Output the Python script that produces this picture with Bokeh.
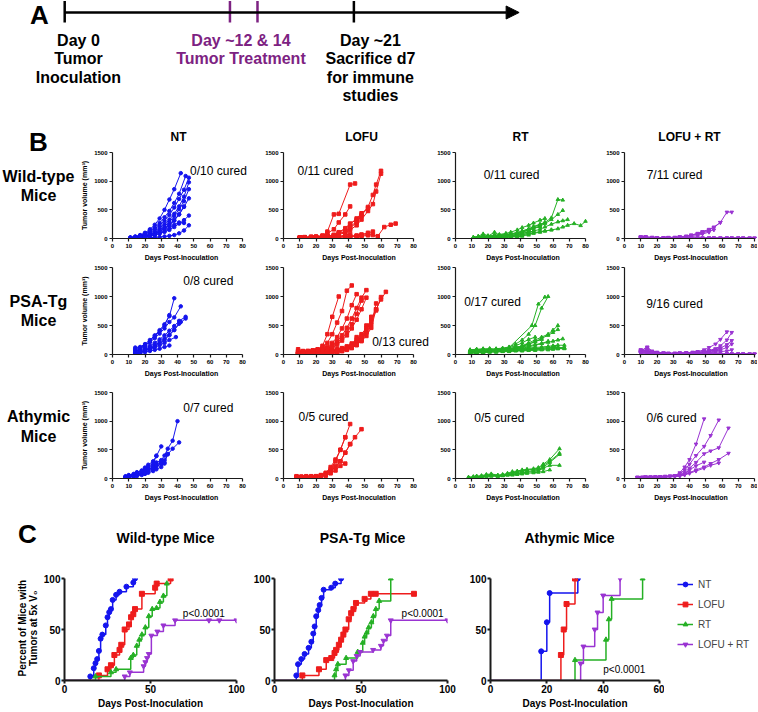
import math
from bokeh.plotting import figure
from bokeh.models import Range1d, Label, Arrow, NormalHead, Legend, LegendItem
from bokeh.layouts import row, column
from bokeh.core.properties import value
from bokeh.embed import file_html
from bokeh.resources import INLINE

FONT = "Liberation Sans"

# ---------------- data ----------------
groups = ["NT", "LOFU", "RT", "LOFU + RT"]
group_colors = ["#1414ee", "#ee1c1c", "#25b025", "#9a34d2"]
group_markers = ["circle", "square", "triangle", "inverted_triangle"]
mouse_rows = [["Wild-type", "Mice"], ["PSA-Tg", "Mice"], ["Athymic", "Mice"]]
km_titles = ["Wild-type Mice", "PSA-Tg Mice", "Athymic Mice"]

# Panel A timeline
timeline_days = [0, 12, 14, 21]
timeline_colors = ["black", "#7d2282", "#7d2282", "black"]
timeline_end = 33
timeline_text = [["Day 0", "Tumor", "Inoculation"],
                 ["Day ~12 & 14", "Tumor Treatment"],
                 ["Day ~21", "Sacrifice d7", "for immune", "studies"]]
timeline_text_day = [1.0, 12.8, 22.2]
timeline_text_color = ["black", "#7d2282", "black"]

# Panel B tumour growth curves (days, volumes mm3), one inner list per mouse
wt_nt_days = [
    [11, 14, 17, 20, 23, 26, 29, 32, 35, 38, 42],
    [11, 14, 17, 20, 23, 26, 29, 32, 35, 38, 41, 45],
    [11, 14, 17, 20, 23, 26, 29, 32, 35, 38, 41, 44, 47],
    [11, 14, 17, 20, 23, 26, 29, 32, 35, 38, 41, 44, 47],
    [11, 14, 17, 20, 23, 26, 29, 32, 35, 38, 41, 44, 47],
    [11, 14, 17, 20, 23, 26, 29, 32, 35, 38, 41, 44, 47],
    [11, 14, 17, 20, 23, 26, 29, 32, 35, 38, 41, 44],
    [11, 14, 17, 20, 23, 26, 29, 32, 35, 38, 41, 44, 47],
    [11, 14, 17, 20, 23, 26, 29, 32, 35, 38, 41, 44],
    [11, 14, 17, 20, 23, 26, 29, 32, 35, 38, 41, 44, 47]]
wt_nt_vol = [
    [20, 35, 60, 100, 160, 240, 350, 500, 680, 860, 1140],
    [15, 30, 55, 90, 130, 190, 270, 370, 480, 620, 780, 1090],
    [10, 25, 50, 80, 120, 170, 230, 310, 410, 540, 690, 850, 1060],
    [10, 20, 40, 65, 95, 135, 185, 250, 330, 430, 560, 730, 980],
    [5, 15, 30, 50, 75, 105, 150, 210, 290, 390, 510, 650, 860],
    [8, 18, 30, 45, 65, 95, 130, 180, 240, 320, 420, 550, 700],
    [5, 12, 25, 40, 60, 85, 120, 170, 230, 310, 420, 560],
    [5, 10, 20, 30, 45, 60, 85, 115, 150, 200, 260, 320, 400],
    [5, 10, 15, 25, 40, 60, 90, 130, 180, 240, 280, 270],
    [2, 5, 8, 10, 15, 20, 25, 35, 45, 60, 90, 140, 230]]

wt_lofu_days = [
    [10, 13, 17, 20, 24, 27, 31, 34, 38, 41, 45, 48, 52, 55, 57, 60],
    [10, 13, 17, 20, 24, 27, 31, 34, 38, 41, 45, 48, 52, 55, 57, 60],
    [10, 13, 17, 20, 24, 27, 31, 34, 41, 44],
    [10, 13, 17, 20, 24, 27, 31, 34, 38, 41],
    [10, 13, 17, 20, 24, 27, 31, 34, 38, 41, 45, 48, 52],
    [10, 13, 17, 20, 24, 27, 31, 34, 38, 41, 45, 48],
    [10, 13, 17, 20, 24, 27, 31, 34, 38, 41, 45],
    [10, 13, 17, 20, 24, 27, 31, 34, 38, 41, 45, 48, 52, 55, 58, 62, 66, 69],
    [10, 13, 17, 20, 24, 27, 31, 34, 38, 41, 45, 48, 52, 55],
    [10, 13, 17, 20, 24, 27, 31, 34, 38, 41, 45, 48, 52],
    [10, 13, 17, 20, 24, 27, 31, 34, 38, 41]]
wt_lofu_vol = [
    [20, 25, 30, 30, 40, 45, 60, 80, 120, 180, 280, 400, 550, 760, 940, 1180],
    [15, 20, 25, 30, 35, 40, 50, 70, 100, 150, 230, 330, 480, 600, 820, 1130],
    [20, 20, 25, 30, 50, 120, 420, 430, 940, 960],
    [15, 20, 25, 30, 50, 90, 160, 280, 420, 560],
    [10, 15, 20, 25, 30, 40, 60, 100, 160, 250, 350, 440, 530],
    [10, 15, 15, 20, 25, 35, 60, 110, 180, 260, 330, 400],
    [10, 10, 15, 20, 25, 30, 50, 80, 130, 200, 300],
    [10, 15, 10, 15, 20, 20, 25, 30, 35, 40, 50, 60, 70, 60, 40, 200, 240, 260],
    [5, 10, 10, 15, 15, 20, 20, 25, 30, 40, 50, 70, 100, 120],
    [5, 5, 10, 10, 15, 15, 20, 20, 25, 30, 35, 40, 55],
    [5, 5, 5, 10, 10, 15, 20, 40, 60, 80]]

wt_rt_days = [
    [11, 14, 17, 20, 24, 27, 31, 34, 38, 41, 45, 48, 52, 55, 59, 63, 66],
    [11, 14, 17, 20, 24, 27, 31, 34, 38, 41, 45, 48, 52, 55, 59, 63, 66],
    [11, 14, 17, 20, 24, 27, 31, 34, 38, 41, 45, 48, 52, 55, 59, 63, 66, 69],
    [11, 14, 17, 20, 24, 27, 31, 34, 38, 41, 45, 48, 52, 55, 59, 63, 66, 69, 73, 77, 80],
    [11, 14, 17, 20, 24, 27, 31, 34, 38, 41, 45, 48, 52, 55],
    [11, 14, 17, 20, 24, 27, 31, 34, 38, 41, 45, 48, 52, 55],
    [11, 14, 17, 20, 24, 27, 31, 34, 38, 41, 45, 48, 52],
    [11, 14, 17, 20, 24, 27, 31, 34, 38, 41, 45, 48, 52, 55, 59],
    [11, 14, 17, 20, 24, 27, 31, 34, 38, 41, 45, 48],
    [11, 14, 17, 20, 24, 27, 31, 34, 38, 41, 45],
    [11, 14, 17, 20, 24, 27, 31, 34, 38, 41]]
wt_rt_vol = [
    [20, 30, 50, 40, 50, 60, 70, 80, 100, 130, 160, 200, 240, 280, 360, 680, 670],
    [10, 20, 30, 40, 40, 50, 60, 70, 90, 110, 140, 180, 220, 260, 330, 420, 490],
    [10, 20, 30, 30, 40, 40, 50, 60, 70, 90, 110, 130, 160, 200, 250, 290, 310, 330],
    [10, 15, 20, 25, 30, 35, 40, 50, 60, 70, 80, 90, 110, 130, 150, 170, 200, 230, 260, 225, 300],
    [20, 40, 80, 50, 60, 70, 90, 110, 150, 190, 230, 270, 320, 350],
    [10, 20, 40, 30, 40, 50, 60, 80, 100, 130, 170, 210, 250, 280],
    [20, 30, 50, 40, 110, 60, 70, 80, 100, 120, 150, 180, 200],
    [5, 10, 20, 20, 30, 30, 40, 50, 60, 70, 90, 100, 120, 130, 150],
    [5, 10, 15, 20, 20, 30, 40, 50, 70, 90, 110, 130],
    [5, 5, 10, 10, 15, 20, 25, 30, 40, 50, 60],
    [5, 5, 10, 10, 10, 15, 20, 25, 30, 40]]

wt_lrt_days = [
    [10, 13, 17, 20, 24, 27, 31, 34, 38, 41, 45, 48, 52, 55, 59, 63, 66],
    [10, 13, 17, 20, 24, 27, 31, 34, 38, 41, 45, 48, 52, 55, 59],
    [10, 13, 17, 20, 24, 27, 31, 34, 38, 41, 45, 48, 52, 55],
    [10, 13, 17, 20, 24, 27, 31, 34, 38, 41, 45, 48, 52],
    [10, 13, 17, 20, 24, 27, 31, 34, 38, 41, 45, 48, 52, 55, 59, 63, 66, 70, 73, 77, 80],
    [10, 13, 17, 20, 24, 27, 31, 34, 38, 41, 45, 48, 52, 55, 59, 63, 66, 70, 73, 77, 80],
    [10, 13, 17, 20, 24, 27, 31, 34, 38, 41, 45, 48, 52, 55, 59, 63, 66, 70, 73],
    [10, 13, 17, 20, 24, 27, 31, 34, 38, 41, 45, 48, 52, 55, 59, 63, 66, 70, 73, 77, 80],
    [10, 13, 17, 20, 24, 27, 31, 34, 38, 41, 45, 48, 52, 55, 59, 63, 66, 70],
    [10, 13, 17, 20, 24, 27, 31, 34, 38, 41, 45, 48, 52, 55, 59, 63, 66, 70, 73, 77, 80],
    [10, 13, 17, 20, 24, 27, 31, 34, 38, 41, 45, 48, 52, 55, 59, 63, 66, 70, 73, 77]]
wt_lrt_vol = [
    [20, 30, 20, 10, 10, 20, 20, 30, 40, 60, 80, 110, 150, 190, 280, 460, 460],
    [10, 20, 10, 10, 10, 10, 20, 30, 40, 60, 90, 120, 160, 200, 280],
    [10, 10, 10, 5, 10, 10, 15, 20, 30, 50, 70, 100, 130, 150],
    [5, 10, 5, 5, 5, 10, 10, 15, 20, 30, 50, 80, 110],
    [30, 20, 10, 5, 5, 5, 5, 5, 5, 5, 5, 5, 5, 5, 5, 5, 5, 5, 5, 5, 5],
    [20, 30, 10, 10, 5, 5, 5, 5, 5, 5, 5, 5, 5, 5, 5, 5, 5, 5, 5, 5, 5],
    [10, 20, 10, 5, 5, 5, 5, 5, 5, 5, 5, 5, 5, 5, 5, 5, 5, 5, 5],
    [20, 10, 5, 5, 5, 5, 5, 5, 5, 5, 5, 5, 5, 5, 5, 5, 5, 5, 5, 5, 5],
    [10, 10, 5, 5, 5, 5, 5, 5, 5, 5, 5, 5, 5, 5, 5, 5, 5, 5],
    [30, 20, 20, 10, 5, 5, 5, 5, 5, 5, 5, 5, 5, 5, 5, 5, 5, 5, 5, 5, 5],
    [10, 10, 5, 5, 5, 5, 5, 5, 5, 5, 5, 5, 5, 5, 5, 5, 5, 5, 5, 5]]

psa_nt_days = [
    [14, 17, 20, 23, 26, 29, 32, 35, 38],
    [14, 17, 20, 23, 26, 29, 32, 35, 38, 42],
    [14, 17, 20, 23, 26, 29, 32, 35],
    [14, 17, 20, 23, 26, 29, 32, 35, 38, 41, 45],
    [14, 17, 20, 23, 26, 29, 32, 35, 38, 41, 45],
    [14, 17, 20, 23, 26, 29, 32, 35, 38, 42],
    [14, 17, 20, 23, 26, 29, 32, 35, 39],
    [14, 17, 20, 23, 26, 29, 32, 35]]
psa_nt_vol = [
    [120, 130, 180, 250, 330, 420, 520, 660, 970],
    [100, 120, 160, 210, 280, 360, 450, 560, 640, 830],
    [80, 100, 150, 220, 310, 400, 500, 680],
    [60, 80, 110, 150, 200, 260, 330, 410, 490, 580, 650],
    [40, 60, 90, 120, 160, 210, 270, 340, 420, 530, 620],
    [30, 50, 70, 100, 140, 190, 250, 330, 430, 560],
    [20, 40, 60, 90, 120, 160, 200, 250, 300],
    [10, 20, 40, 60, 80, 100, 130, 155]]

psa_lofu_days = [
    [9, 12, 15, 18, 21, 24, 27, 30, 34],
    [9, 12, 15, 18, 21, 24, 27, 30, 33, 36, 39, 42],
    [9, 12, 15, 18, 21, 24, 27, 30, 33, 36, 39, 42, 45],
    [9, 12, 15, 18, 21, 24, 27, 30, 33, 36, 39, 42, 45, 48, 51],
    [9, 12, 15, 18, 21, 24, 27, 30, 33, 36, 39, 42, 45, 48],
    [9, 12, 15, 18, 21, 24, 27, 30, 33, 36, 39, 42, 45, 48, 51],
    [9, 12, 15, 18, 21, 24, 27, 30, 33, 36, 39, 42, 45, 48, 51, 54, 57, 60, 63],
    [9, 12, 15, 18, 21, 24, 27, 30, 33, 36, 39, 42, 45, 48, 51, 54, 57, 60],
    [9, 12, 15, 18, 21, 24, 27, 30, 33, 36, 39, 42, 45, 48, 51, 54, 57],
    [9, 12, 15, 18, 21, 24, 27, 30, 33, 36, 39, 42, 45, 48, 51, 54, 57],
    [9, 12, 15, 18, 21, 24, 27, 30, 33, 36, 39, 42, 45, 48, 51, 54],
    [9, 12, 15, 18, 21, 24, 27, 30, 33, 36, 39, 42, 45, 48, 51],
    [9, 12, 15, 18, 21, 24, 27, 30, 33, 36, 39, 42, 45]]
psa_lofu_vol = [
    [90, 60, 50, 60, 80, 150, 350, 650, 1000],
    [60, 50, 60, 70, 90, 120, 200, 350, 550, 750, 1100, 1190],
    [50, 40, 50, 60, 70, 90, 130, 200, 300, 450, 620, 850, 1040],
    [40, 50, 60, 70, 80, 90, 110, 160, 230, 330, 460, 620, 800, 980, 1110],
    [30, 40, 50, 50, 60, 80, 100, 140, 200, 280, 380, 520, 700, 930],
    [20, 30, 40, 50, 60, 70, 90, 120, 170, 240, 330, 450, 600, 780, 980],
    [20, 30, 30, 40, 40, 50, 60, 70, 90, 110, 140, 190, 260, 350, 460, 600, 780, 950, 1080],
    [10, 20, 30, 30, 40, 40, 50, 60, 80, 100, 130, 170, 230, 310, 420, 560, 760, 990],
    [10, 20, 20, 30, 30, 40, 50, 60, 70, 90, 110, 150, 200, 280, 380, 520, 880],
    [10, 10, 20, 20, 30, 30, 40, 50, 60, 80, 100, 130, 170, 230, 320, 460, 780],
    [5, 10, 10, 20, 20, 30, 30, 40, 50, 70, 90, 120, 170, 250, 380, 650],
    [5, 10, 10, 10, 20, 20, 30, 30, 40, 60, 80, 110, 160, 250, 500],
    [5, 5, 10, 10, 10, 20, 20, 30, 40, 60, 90, 150, 300]]

psa_rt_days = [
    [9, 13, 17, 21, 25, 29, 33, 47, 51, 55],
    [9, 13, 17, 21, 25, 29, 33, 37, 41, 45, 49, 53, 57],
    [9, 13, 17, 21, 25, 29, 33, 37, 41, 45, 49, 53, 57, 60, 63],
    [9, 13, 17, 21, 25, 29, 33, 37, 41, 45, 49, 53, 57, 60, 63],
    [9, 13, 17, 21, 25, 29, 33, 37, 41, 45, 49, 53, 57, 60, 63, 66],
    [9, 13, 17, 21, 25, 29, 33, 37, 41, 45, 49, 53, 57, 60, 63, 67],
    [9, 13, 17, 21, 25, 29, 33, 37, 41, 45, 49, 53, 57, 60, 63, 67],
    [9, 13, 17, 21, 25, 29, 33, 37, 41, 45, 49, 53, 57, 60, 63, 67],
    [9, 13, 17, 21, 25, 29, 33, 37, 41, 45, 49],
    [9, 13, 17, 21, 25, 29, 33, 37, 41, 45, 49, 53],
    [9, 13, 17, 21, 25, 29, 33, 37, 41, 45, 49, 53, 57],
    [9, 13, 17, 21, 25, 29, 33, 37, 41, 45],
    [9, 13, 17, 21, 25, 29, 33, 37, 41],
    [9, 13, 17, 21, 25, 29, 33, 37, 41, 45, 49],
    [9, 13, 17, 21, 25, 29, 33, 37, 41, 45, 49, 53],
    [9, 13, 17, 21, 25, 29, 33, 37, 41, 45, 49, 53, 57, 61],
    [9, 13, 17, 21, 25, 29, 33, 37, 41, 45, 49, 53, 57, 60, 63, 67]]
psa_rt_vol = [
    [80, 90, 80, 100, 90, 100, 120, 500, 870, 990],
    [60, 70, 90, 80, 100, 110, 130, 180, 250, 350, 500, 800, 1000],
    [70, 80, 90, 100, 80, 90, 100, 120, 150, 200, 250, 300, 350, 420, 500],
    [50, 60, 70, 80, 90, 80, 90, 110, 140, 180, 220, 280, 330, 380, 430],
    [80, 90, 100, 90, 80, 90, 100, 110, 130, 150, 170, 190, 210, 230, 250, 270],
    [60, 70, 80, 70, 80, 90, 90, 100, 100, 110, 120, 130, 140, 150, 160, 160],
    [50, 60, 70, 60, 70, 80, 80, 90, 90, 100, 100, 110, 110, 120, 120, 120],
    [40, 50, 60, 50, 60, 60, 70, 70, 80, 80, 90, 90, 100, 100, 100, 100],
    [50, 60, 70, 80, 90, 100, 120, 150, 200, 260, 300],
    [40, 50, 60, 70, 80, 90, 100, 120, 150, 180, 220, 260],
    [30, 40, 50, 60, 60, 70, 80, 90, 110, 130, 160, 190, 230],
    [60, 70, 80, 90, 80, 90, 100, 120, 140, 180],
    [40, 50, 60, 70, 70, 80, 90, 100, 120],
    [30, 40, 50, 50, 60, 60, 70, 80, 90, 100, 120],
    [20, 30, 40, 50, 50, 60, 60, 70, 70, 80, 90, 100],
    [30, 40, 40, 50, 50, 60, 60, 70, 80, 90, 100, 110, 120, 130],
    [20, 30, 30, 40, 40, 50, 50, 60, 60, 70, 70, 80, 80, 90, 100, 110]]

psa_lrt_days = [
    [10, 14, 17, 20, 24, 27, 31, 34, 38, 42, 45, 49, 52, 56, 59, 63],
    [10, 14, 17, 20, 24, 27, 31, 34, 38, 42, 45, 49, 52, 56, 59, 63, 66],
    [10, 14, 17, 20, 24, 27, 31, 34, 38, 42, 45, 49, 52, 56, 59, 63, 66],
    [10, 14, 17, 20, 24, 27, 31, 34, 38, 42, 45, 49, 52, 56, 59, 63, 66],
    [10, 14, 17, 20, 24, 27, 31, 34, 38, 42, 45, 49, 52, 56, 59, 63, 66],
    [10, 14, 17, 20, 24, 27, 31, 34, 38, 42, 45, 49, 52, 56, 59],
    [10, 14, 17, 20, 24, 27, 31, 34, 38, 42, 45, 49, 52, 56],
    [10, 14, 17, 20, 24, 27, 31, 34, 38, 42, 45, 49, 52, 56, 59, 63, 66, 70, 73, 77, 80],
    [10, 14, 17, 20, 24, 27, 31, 34, 38, 42, 45, 49, 52, 56, 59, 63, 66, 70, 73, 77, 80],
    [10, 14, 17, 20, 24, 27, 31, 34, 38, 42, 45, 49, 52, 56, 59, 63, 66, 70, 73, 77, 80],
    [10, 14, 17, 20, 24, 27, 31, 34, 38, 42, 45, 49, 52, 56, 59, 63, 66, 70, 73, 77],
    [10, 14, 17, 20, 24, 27, 31, 34, 38, 42, 45, 49, 52, 56, 59, 63, 66, 70, 73, 77, 80],
    [10, 14, 17, 20, 24, 27, 31, 34, 38, 42, 45, 49, 52, 56, 59, 63, 66, 70, 73],
    [10, 14, 17, 20, 24, 27, 31, 34, 38, 42, 45, 49, 52, 56, 59, 63, 66, 70, 73, 77, 80],
    [10, 14, 17, 20, 24, 27, 31, 34, 38, 42, 45, 49, 52, 56, 59, 63, 66, 70],
    [10, 14, 17, 20, 24, 27, 31, 34, 38, 42, 45, 49, 52, 56, 59, 63, 66, 70, 73, 77, 80]]
psa_lrt_vol = [
    [80, 60, 40, 30, 20, 20, 20, 30, 30, 40, 50, 80, 120, 180, 260, 390],
    [60, 130, 60, 40, 30, 20, 20, 20, 30, 30, 40, 50, 70, 100, 150, 250, 380],
    [40, 100, 50, 30, 20, 20, 20, 20, 20, 30, 30, 40, 60, 80, 110, 170, 240],
    [30, 60, 40, 30, 20, 20, 20, 20, 20, 20, 30, 30, 40, 60, 80, 120, 180],
    [20, 40, 30, 20, 20, 10, 10, 10, 20, 20, 20, 30, 30, 40, 50, 60, 80],
    [50, 30, 20, 20, 10, 10, 10, 20, 20, 20, 30, 40, 60, 80, 100],
    [30, 20, 20, 10, 10, 10, 10, 20, 20, 30, 40, 50, 60, 70],
    [80, 50, 30, 20, 10, 5, 5, 5, 5, 5, 5, 5, 5, 5, 5, 5, 5, 5, 5, 5, 5],
    [60, 120, 40, 20, 10, 10, 5, 5, 5, 5, 5, 5, 5, 5, 5, 5, 5, 5, 5, 5, 5],
    [40, 80, 30, 20, 10, 5, 5, 5, 5, 5, 5, 5, 5, 5, 5, 5, 5, 5, 5, 5, 5],
    [30, 60, 20, 10, 10, 5, 5, 5, 5, 5, 5, 5, 5, 5, 5, 5, 5, 5, 5, 5],
    [20, 40, 20, 10, 5, 5, 5, 5, 5, 5, 5, 5, 5, 5, 5, 5, 5, 5, 5, 5, 5],
    [50, 30, 20, 10, 5, 5, 5, 5, 5, 5, 5, 5, 5, 5, 5, 5, 5, 5, 5],
    [70, 50, 30, 20, 10, 10, 5, 5, 5, 5, 5, 5, 5, 5, 5, 5, 5, 5, 5, 5, 5],
    [40, 20, 10, 10, 5, 5, 5, 5, 5, 5, 5, 5, 5, 5, 5, 5, 5, 5],
    [30, 20, 20, 10, 10, 5, 5, 5, 5, 5, 5, 5, 5, 5, 5, 5, 5, 5, 5, 5, 5]]

ath_nt_days = [
    [8, 10, 13, 15, 18, 20, 22, 25, 27, 30, 32, 34, 37, 40],
    [8, 10, 13, 15, 18, 20, 22, 25, 27, 30, 32, 34, 37, 41],
    [8, 10, 13, 15, 18, 20, 22, 25, 27, 30],
    [8, 10, 13, 15, 18, 20, 22, 25, 27],
    [8, 10, 13, 15, 18, 20, 22, 25, 27, 30],
    [8, 10, 13, 15, 18, 20, 22, 25, 27, 30, 32],
    [8, 10, 13, 15, 18, 20, 22, 25, 27, 30, 32, 34]]
ath_nt_vol = [
    [30, 40, 60, 80, 110, 140, 180, 230, 280, 320, 400, 520, 660, 1000],
    [20, 30, 50, 70, 90, 120, 150, 190, 230, 280, 320, 420, 520, 630],
    [40, 60, 80, 110, 140, 190, 240, 300, 390, 560],
    [30, 50, 70, 100, 130, 170, 210, 260, 400],
    [20, 30, 50, 70, 100, 130, 160, 200, 240, 280],
    [10, 20, 40, 60, 80, 100, 130, 170, 210, 250, 280],
    [10, 20, 30, 40, 60, 80, 100, 130, 160, 200, 260, 430]]

ath_lofu_days = [
    [8, 11, 14, 17, 20, 23, 26, 29, 32, 35, 38, 41],
    [8, 11, 14, 17, 20, 23, 26, 29, 32, 35, 38, 41, 44, 48],
    [8, 11, 14, 17, 20, 23, 26, 29, 32, 35, 38],
    [8, 11, 14, 17, 20, 23, 26, 29, 32, 35, 38, 41],
    [8, 11, 14, 17, 20, 23, 26, 29, 32, 35, 38]]
ath_lofu_vol = [
    [40, 30, 40, 30, 40, 60, 100, 200, 330, 500, 720, 950],
    [30, 30, 30, 40, 40, 50, 80, 130, 200, 300, 450, 600, 720, 860],
    [20, 30, 20, 30, 30, 50, 90, 160, 300, 500, 720],
    [30, 20, 30, 20, 30, 40, 60, 120, 220, 300, 450, 600],
    [20, 20, 20, 20, 30, 40, 50, 90, 140, 220, 260]]

ath_rt_days = [
    [8, 11, 13, 16, 19, 22, 26, 29, 32, 35, 38, 41, 44, 48, 51, 54, 58, 64],
    [8, 11, 13, 16, 19, 22, 26, 29, 32, 35, 38, 41, 44, 48, 51, 54, 58, 64],
    [8, 11, 13, 16, 19, 22, 26, 29, 32, 35, 38, 41, 44, 48, 51, 54, 58, 64],
    [8, 11, 13, 16, 19, 22, 26, 29, 32, 35, 38, 41, 44, 48, 51, 54, 58, 64],
    [8, 11, 13, 16, 19, 22, 26, 29, 32, 35, 38, 41, 44, 48, 51, 54, 58]]
ath_rt_vol = [
    [20, 30, 40, 40, 60, 70, 50, 60, 90, 120, 130, 150, 160, 170, 190, 250, 330, 520],
    [20, 30, 40, 50, 70, 80, 60, 70, 80, 100, 110, 130, 150, 160, 180, 230, 300, 440],
    [10, 20, 30, 40, 50, 60, 50, 60, 70, 80, 90, 110, 120, 140, 160, 200, 280, 420],
    [10, 20, 30, 30, 40, 50, 40, 50, 60, 70, 80, 100, 110, 120, 140, 180, 230, 230],
    [10, 10, 20, 30, 40, 40, 40, 50, 60, 60, 70, 80, 90, 100, 110, 120, 150]]

ath_lrt_days = [
    [8, 11, 13, 16, 19, 22, 25, 28, 31, 34, 37, 40, 44, 49],
    [8, 11, 13, 16, 19, 22, 25, 28, 31, 34, 37, 40, 44, 49, 53, 58],
    [8, 11, 13, 16, 19, 22, 25, 28, 31, 34, 37, 40, 44, 49, 53, 58, 64],
    [8, 11, 13, 16, 19, 22, 25, 28, 31, 34, 37, 40, 44, 49, 53, 58, 64],
    [8, 11, 13, 16, 19, 22, 25, 28, 31, 34, 37, 40, 44, 49],
    [8, 11, 13, 16, 19, 22, 25, 28, 31, 34, 37, 40, 44, 49, 53, 58]]
ath_lrt_vol = [
    [20, 20, 20, 20, 20, 30, 30, 40, 50, 100, 200, 330, 600, 1040],
    [20, 20, 20, 20, 30, 30, 30, 40, 50, 80, 150, 250, 400, 560, 750, 1020],
    [20, 20, 30, 30, 30, 30, 40, 40, 50, 60, 100, 180, 280, 430, 480, 535, 880],
    [20, 20, 20, 20, 20, 30, 30, 40, 40, 50, 70, 100, 150, 200, 260, 330, 440],
    [10, 20, 20, 20, 20, 20, 30, 30, 40, 50, 80, 150, 220, 285],
    [10, 10, 20, 20, 20, 20, 20, 30, 30, 40, 60, 90, 130, 180, 230, 270]]

cured_text = [["0/10 cured", "0/11 cured", "0/11 cured", "7/11 cured"],
              ["0/8 cured", "0/13 cured", "0/17 cured", "9/16 cured"],
              ["0/7 cured", "0/5 cured", "0/5 cured", "0/6 cured"]]
cured_x = [[65.2, 25.8, 34.5, 30.8], [59, 72, 22.8, 30.8], [59, 24.6, 27, 29]]
cured_y = [[1169, 1169, 1116, 1116], [1259, 207, 897, 879], [1221, 1081, 1047, 1047]]

b_x_ticks = [0, 10, 20, 30, 40, 50, 60, 70, 80]
b_y_ticks = [0, 500, 1000, 1500]
b_x_max = 80

# Panel C: Kaplan-Meier (days, percent with tumours at 5x V0; censored days)
km_wt_nt_days = [15, 17, 18, 19, 20, 21, 22, 24, 25, 26, 27, 28, 30, 32, 36, 40, 41]
km_wt_nt_pct = [4, 12, 17, 21, 29, 41, 45, 54, 62, 67, 70, 79, 84, 87, 92, 96, 100]
km_wt_lofu_days = [20, 25, 27, 29, 32, 33, 35, 37.5, 38.7, 40, 41, 45, 52.7, 53.6, 61.7]
km_wt_lofu_pct = [5, 11, 15, 25, 30, 35, 50, 55, 62, 65, 70, 85, 91, 95, 100]
km_wt_rt_days = [18, 27, 30, 38.5, 40, 42, 43.5, 45, 47, 49, 51, 53.5, 55.5, 57.5, 59.5]
km_wt_rt_pct = [4, 8, 11, 22, 25, 34, 40, 45, 52, 63, 70, 71, 77, 83, 95]
km_wt_lrt_days = [35, 38, 46, 47, 48, 49, 50.5, 54, 57.5, 64.3]
km_wt_lrt_pct = [4, 8, 14, 18, 22, 26, 44, 48, 54, 59]
km_wt_lrt_cens = [84, 90, 100]

km_psa_nt_days = [12.6, 13.6, 15.5, 17.4, 19.7, 21.3, 22.4, 23.2, 24.1, 25.3, 26.1, 27.2, 28.4, 32.8, 35.1, 38.5]
km_psa_nt_pct = [5, 16, 21, 26, 32, 38, 46, 53, 63, 69, 74, 81, 89, 91, 95, 100]
km_psa_lofu_days = [16.1, 25.7, 29.9, 32.8, 34.7, 35.6, 37.2, 38.5, 39.8, 41, 42.9, 44.3, 45.6, 47.1, 52.1, 55.7]
km_psa_lofu_pct = [5, 11, 20, 22, 27, 30, 35, 40, 45, 50, 60, 66, 70, 76, 80, 85]
km_psa_lofu_cens = [58.5, 80.6]
km_psa_rt_days = [34.7, 35.6, 36.6, 41.4, 48.1, 51, 52.1, 53.3, 54.4, 56, 57.1, 58.6, 60.5, 67.2]
km_psa_rt_pct = [5, 11, 16, 22, 28, 37, 43, 47, 52, 57, 63, 70, 78, 100]
km_psa_lrt_days = [41, 43, 45.5, 47.5, 49.5, 57, 61.5, 63, 65, 67.2]
km_psa_lrt_pct = [5, 10, 19, 24, 28, 30, 34, 39, 44, 59]
km_psa_lrt_cens = [100]

km_ath_nt_days = [18, 20, 21, 31]
km_ath_nt_pct = [28.6, 57.1, 85.7, 100]
km_ath_lofu_days = [25, 26, 27, 30]
km_ath_lofu_pct = [25, 50, 75, 100]
km_ath_rt_days = [30, 41, 42, 43, 54]
km_ath_rt_pct = [20, 40, 60, 80, 100]
km_ath_lrt_days = [32, 33, 37, 38, 40, 46]
km_ath_lrt_pct = [16.7, 33.3, 50, 66.7, 83.3, 100]

km_xmax = [100, 100, 60]
km_x_ticks = [[0, 50, 100], [0, 50, 100], [0, 20, 40, 60]]
km_y_ticks = [0, 50, 100]
p_text = "p<0.0001"
p_x = [81, 85.6, 47.5]
p_y = [65.5, 65.5, 10.3]

# legend swatch renderers sit outside the visible legend frame
legend_dummy = [-5]

# ---------------- helpers ----------------
def text_fig(w, h, flip=True):
    yr = Range1d(h, 0) if flip else Range1d(0, h)
    p = figure(width=w, height=h, x_range=Range1d(0, w), y_range=yr,
               x_axis_location=None, y_axis_location=None,
               toolbar_location=None, output_backend="svg", min_border=0,
               outline_line_color=None)
    p.grid.visible = False
    return p


def add_text(p, xs, ys, texts, size, bold=True, color="black", angle=0.0):
    p.text(x=xs, y=ys, text=texts, text_font=value(FONT), text_font_size=value(size),
           text_font_style="bold" if bold else "normal", text_color=color,
           text_align="center", text_baseline="middle", angle=angle)


def style_axes(p, lw, tick_out, lab_size, axlab_size, lab_standoff, axlab_standoff):
    p.axis.axis_line_width = lw
    p.axis.axis_line_color = "#1a1a1a"
    p.axis.major_tick_line_width = lw
    p.axis.major_tick_line_color = "#1a1a1a"
    p.axis.major_tick_out = tick_out
    p.axis.major_tick_in = 0
    p.axis.minor_tick_line_color = None
    p.axis.major_label_text_font = FONT
    p.axis.major_label_text_font_size = lab_size
    p.axis.major_label_text_font_style = "bold"
    p.axis.major_label_text_color = "black"
    p.axis.major_label_standoff = lab_standoff
    p.axis.axis_label_text_font = FONT
    p.axis.axis_label_text_font_size = axlab_size
    p.axis.axis_label_text_font_style = "bold"
    p.axis.axis_label_text_color = "black"
    p.axis.axis_label_standoff = axlab_standoff


# ---------------- Panel A ----------------
A_W, A_H = 757, 124
pa = figure(width=A_W, height=A_H, x_range=Range1d(-4.662, 50.31), y_range=Range1d(A_H, 0),
            x_axis_location=None, y_axis_location=None, toolbar_location=None,
            output_backend="svg", min_border=0, outline_line_color=None)
pa.grid.visible = False
pa.add_layout(Arrow(end=NormalHead(size=13, fill_color="black", line_color="black"),
                    x_start=timeline_days[0], y_start=12, x_end=timeline_end, y_end=12,
                    line_width=2.5, line_color="black"))
pa.segment(x0=timeline_days, y0=[0.5] * 4, x1=timeline_days, y1=[22] * 4,
           line_color=timeline_colors, line_width=2.5)
for grp, xd, col in zip(timeline_text, timeline_text_day, timeline_text_color):
    add_text(pa, [xd] * len(grp), [40 + 18.3 * i for i in range(len(grp))], grp, "16px", color=col)
add_text(pa, [-1.83], [14], ["A"], "26px")

# ---------------- Panel B ----------------
b_days = [[wt_nt_days, wt_lofu_days, wt_rt_days, wt_lrt_days],
          [psa_nt_days, psa_lofu_days, psa_rt_days, psa_lrt_days],
          [ath_nt_days, ath_lofu_days, ath_rt_days, ath_lrt_days]]
b_vols = [[wt_nt_vol, wt_lofu_vol, wt_rt_vol, wt_lrt_vol],
          [psa_nt_vol, psa_lofu_vol, psa_rt_vol, psa_lrt_vol],
          [ath_nt_vol, ath_lofu_vol, ath_rt_vol, ath_lrt_vol]]

B_FRAME = 130
B_L = [34, 33, 21, 34]
B_R = [8, 21, 5, 3]
B_W = [B_L[i] + B_FRAME + B_R[i] for i in range(4)]
B_H = [117, 125, 117]
B_T = [6, 4, 4]
B_B = [25, 34, 27]


def b_panel(r, c):
    # frame runs to the right edge of the figure so annotations are not clipped;
    # the axis itself is bounded to 0..80
    x_end = b_x_max * (B_FRAME + B_R[c]) / B_FRAME
    p = figure(width=B_W[c], height=B_H[r], x_range=Range1d(0, x_end), y_range=Range1d(0, 1500),
               min_border_left=B_L[c], min_border_right=0,
               min_border_top=B_T[r], min_border_bottom=B_B[r],
               output_backend="svg", toolbar_location=None, outline_line_color=None)
    p.grid.visible = False
    p.xaxis.ticker = b_x_ticks
    p.xaxis.bounds = (0, b_x_max)
    p.yaxis.ticker = b_y_ticks
    p.xaxis.axis_label = "Days Post-Inoculation"
    if c == 0:
        p.yaxis.axis_label = "Tumor volume (mm³)"
    style_axes(p, 1.2, 3, "6px", "7px", 2, 3)
    col = group_colors[c]
    xs = b_days[r][c]
    ys = b_vols[r][c]
    p.multi_line(xs=xs, ys=ys, line_color=col, line_width=1)
    fx = [d for m in xs for d in m]
    fy = [v for m in ys for v in m]
    p.scatter(x=fx, y=fy, marker=group_markers[c], size=3.5, fill_color=col, line_color=col)
    p.add_layout(Label(x=cured_x[r][c], y=cured_y[r][c], text=cured_text[r][c],
                       text_font=FONT, text_font_size="12px", text_color="black",
                       text_align="center", text_baseline="middle"))
    return p


b_rows = [row(*[b_panel(r, c) for c in range(4)]) for r in range(3)]

HDR_W = sum(B_W)
hdr = text_fig(HDR_W, 22)
add_text(hdr, [100, 283, 442, 611], [12, 12, 12, 12], groups, "12px")

LEFT_W = 78
left = text_fig(LEFT_W, 22 + sum(B_H))
add_text(left, [38], [17], ["B"], "26px")
row_label_y = [[52, 71], [177, 196], [292, 312]]
for lab, ly in zip(mouse_rows, row_label_y):
    add_text(left, [38, 38], ly, lab, "16px")

panel_b = row(left, column(hdr, *b_rows))

# ---------------- Panel C ----------------
hc = text_fig(757, 52)
add_text(hc, [27], [28], ["C"], "26px")
add_text(hc, [165, 362, 569], [32, 32, 32], km_titles, "14px")

C_H = 154
cyl = text_fig(40, C_H, flip=False)
add_text(cyl, [22, 33], [79, 79], ["Percent of Mice with", "Tumors at 5x V₀"], "10px",
         angle=math.pi / 2)

km_sets = [
    [(km_wt_nt_days, km_wt_nt_pct, []), (km_wt_lofu_days, km_wt_lofu_pct, []),
     (km_wt_rt_days, km_wt_rt_pct, []), (km_wt_lrt_days, km_wt_lrt_pct, km_wt_lrt_cens)],
    [(km_psa_nt_days, km_psa_nt_pct, []), (km_psa_lofu_days, km_psa_lofu_pct, km_psa_lofu_cens),
     (km_psa_rt_days, km_psa_rt_pct, []), (km_psa_lrt_days, km_psa_lrt_pct, km_psa_lrt_cens)],
    [(km_ath_nt_days, km_ath_nt_pct, []), (km_ath_lofu_days, km_ath_lofu_pct, []),
     (km_ath_rt_days, km_ath_rt_pct, []), (km_ath_lrt_days, km_ath_lrt_pct, [])],
]
C_W = [210, 216, 198]
C_L = [22, 23, 20]
C_R = [14, 19, 5]


def km_panel(i):
    p = figure(width=C_W[i], height=C_H, x_range=Range1d(0, km_xmax[i]), y_range=Range1d(0, 100),
               min_border_left=C_L[i], min_border_right=C_R[i], min_border_top=10,
               min_border_bottom=30, output_backend="svg", toolbar_location=None,
               outline_line_color=None)
    p.grid.visible = False
    p.xaxis.ticker = km_x_ticks[i]
    p.yaxis.ticker = km_y_ticks
    p.xaxis.axis_label = "Days Post-Inoculation"
    style_axes(p, 2, 3, "10px", "10px", 1, 2)
    for (days, pct, cens), col, mk in zip(km_sets[i], group_colors, group_markers):
        last = [pct[-1]] * len(cens)
        sx = [0] + days + cens
        sy = [0] + pct + last
        p.step(x=sx, y=sy, mode="after", line_color=col, line_width=1.5)
        p.scatter(x=days + cens, y=pct + last, marker=mk, size=5, fill_color=col, line_color=col)
    p.add_layout(Label(x=p_x[i], y=p_y[i], text=p_text, text_font=FONT, text_font_size="10px",
                       text_color="black", text_align="center", text_baseline="middle"))
    return p


km_figs = [km_panel(i) for i in range(3)]

lg = figure(width=93, height=C_H, x_range=Range1d(0, 1), y_range=Range1d(0, 1),
            x_axis_location=None, y_axis_location=None, toolbar_location=None,
            output_backend="svg", min_border_left=13, min_border_top=21,
            min_border_right=0, min_border_bottom=0, outline_line_color=None)
lg.grid.visible = False
items = []
for name, col, mk in zip(groups, group_colors, group_markers):
    lr = lg.line(x=legend_dummy, y=legend_dummy, line_color=col, line_width=1.5)
    sr = lg.scatter(x=legend_dummy, y=legend_dummy, marker=mk, size=5, fill_color=col, line_color=col)
    items.append(LegendItem(label=name, renderers=[lr, sr]))
leg = Legend(items=items, location="top_left", margin=0, padding=0, spacing=8,
             glyph_width=16, glyph_height=12, label_height=12, label_standoff=5,
             border_line_color=None, background_fill_alpha=0,
             label_text_font=FONT, label_text_font_size="10px")
lg.add_layout(leg)

panel_c = row(cyl, *km_figs, lg)

layout = column(pa, panel_b, hc, panel_c)

with open("out.html", "w") as f:
    f.write(file_html(layout, INLINE))
